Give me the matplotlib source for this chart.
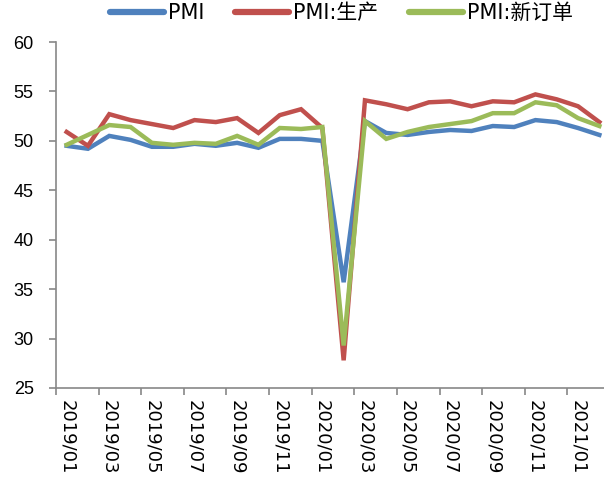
import matplotlib
matplotlib.use('Agg')
import matplotlib.pyplot as plt
from matplotlib.ticker import FixedLocator

# monthly data 2019/01 - 2021/02
months = ['2019/01', '2019/02', '2019/03', '2019/04', '2019/05', '2019/06',
          '2019/07', '2019/08', '2019/09', '2019/10', '2019/11', '2019/12',
          '2020/01', '2020/02', '2020/03', '2020/04', '2020/05', '2020/06',
          '2020/07', '2020/08', '2020/09', '2020/10', '2020/11', '2020/12',
          '2021/01', '2021/02']
pmi = [49.5, 49.2, 50.5, 50.1, 49.4, 49.4, 49.7, 49.5, 49.8, 49.3, 50.2, 50.2,
       50.0, 35.7, 52.0, 50.8, 50.6, 50.9, 51.1, 51.0, 51.5, 51.4, 52.1, 51.9,
       51.3, 50.6]
production = [50.9, 49.5, 52.7, 52.1, 51.7, 51.3, 52.1, 51.9, 52.3, 50.8, 52.6, 53.2,
              51.3, 27.8, 54.1, 53.7, 53.2, 53.9, 54.0, 53.5, 54.0, 53.9, 54.7, 54.2,
              53.5, 51.9]
new_orders = [49.6, 50.6, 51.6, 51.4, 49.8, 49.6, 49.8, 49.7, 50.5, 49.6, 51.3, 51.2,
              51.4, 29.3, 52.0, 50.2, 50.9, 51.4, 51.7, 52.0, 52.8, 52.8, 53.9, 53.6,
              52.3, 51.5]

series = [('PMI', pmi, '#4F81BD'),
          ('PMI:生产', production, '#C0504D'),
          ('PMI:新订单', new_orders, '#9BBB59')]

num_font = ['Liberation Sans Narrow', 'Liberation Sans', 'DejaVu Sans']
legend_font = ['DejaVu Sans', 'Noto Sans CJK SC']

fig = plt.figure(figsize=(6.04, 4.82), dpi=100)
ax = fig.add_axes([56 / 604, 1 - 388 / 482, 554 / 604, 346 / 482])

x = list(range(len(months)))
for name, vals, col in series:
    ax.plot(x, vals, color=col, lw=3.2, label=name, solid_joinstyle='miter')

ax.set_xlim(-0.5, len(months) - 0.5)
ax.set_ylim(25, 60)
ax.set_yticks(range(25, 61, 5))

# labels on every other month, tick marks between categories
ax.set_xticks(x[::2])
ax.set_xticklabels(months[::2], rotation=270, family='DejaVu Sans', fontsize=13)
ax.xaxis.set_minor_locator(FixedLocator([i - 0.5 for i in x[::2]]))
ax.tick_params(axis='x', which='major', length=0, pad=9)
ax.tick_params(axis='x', which='minor', length=5, color='#888888', width=1.2)
ax.tick_params(axis='y', length=5, color='#888888', width=1.2, pad=11,
               labelsize=13)
for lab in ax.get_yticklabels():
    lab.set_family(num_font)

for side in ['top', 'right']:
    ax.spines[side].set_visible(False)
for side in ['left', 'bottom']:
    ax.spines[side].set_color('#888888')
    ax.spines[side].set_linewidth(1.2)

leg = fig.legend(loc='upper left', bbox_to_anchor=(110 / 604, 1 - 3 / 482), ncol=3,
                 frameon=False, handlelength=2.6, columnspacing=1.45,
                 handletextpad=0.2, borderpad=0, borderaxespad=0,
                 prop={'family': legend_font, 'size': 15})
for h in leg.get_lines():
    h.set_linewidth(4.5)
    h.set_solid_capstyle('round')

fig.savefig('out.png', dpi=100)
